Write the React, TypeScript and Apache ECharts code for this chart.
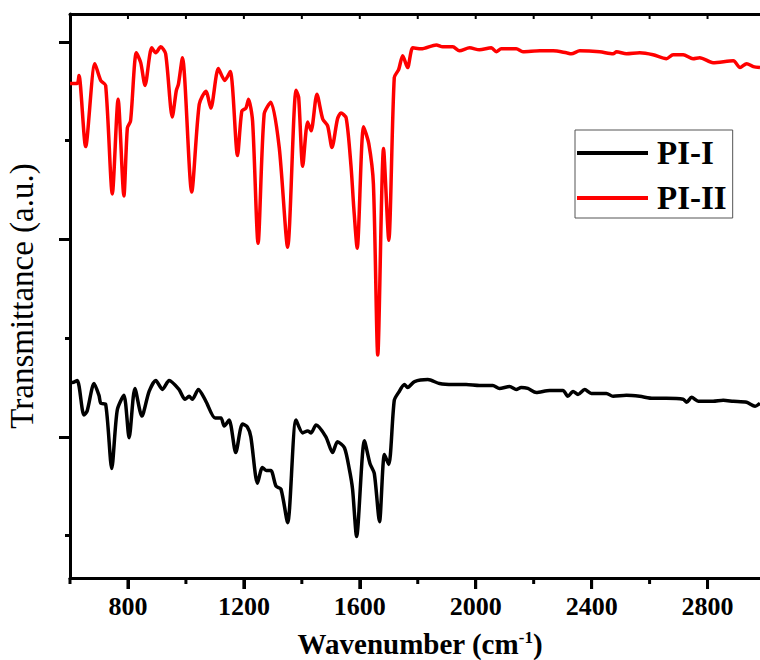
import React, { useEffect, useRef } from "react";
import * as echarts from "echarts";

// PI-I (black) spectrum
const wavenumberPI1 = [600, 608, 625, 648, 659, 683, 700, 706, 723, 744, 763, 786, 804, 824, 848, 873, 896, 919, 942, 976, 997, 1011, 1022, 1043, 1069, 1101, 1121, 1132, 1149, 1172, 1195, 1212, 1224, 1247, 1264, 1277, 1293, 1311, 1328, 1351, 1380, 1403, 1420, 1432, 1449, 1483, 1506, 1523, 1547, 1564, 1575, 1589, 1616, 1635, 1650, 1668, 1685, 1700, 1719, 1734, 1754, 1765, 1789, 1835, 1875, 1921, 1967, 2013, 2059, 2082, 2117, 2140, 2157, 2180, 2209, 2255, 2301, 2318, 2336, 2353, 2376, 2399, 2451, 2474, 2520, 2566, 2612, 2658, 2716, 2728, 2745, 2768, 2819, 2854, 2889, 2935, 2964, 2981];
const transPI1 = [1.55, 1.55, 1.57, 1.22, 1.26, 1.54, 1.42, 1.34, 1.33, 0.68, 1.27, 1.42, 0.99, 1.49, 1.21, 1.46, 1.57, 1.48, 1.57, 1.48, 1.38, 1.41, 1.38, 1.48, 1.36, 1.19, 1.19, 1.11, 1.17, 0.84, 1.13, 1.1, 1.0, 0.53, 0.69, 0.66, 0.66, 0.5, 0.47, 0.13, 1.17, 1.04, 1.06, 1.04, 1.12, 1.0, 0.84, 0.95, 0.89, 0.67, 0.47, -0.01, 0.96, 0.73, 0.63, 0.14, 0.82, 0.72, 1.37, 1.45, 1.53, 1.5, 1.56, 1.58, 1.54, 1.53, 1.53, 1.52, 1.52, 1.49, 1.51, 1.48, 1.5, 1.49, 1.45, 1.47, 1.47, 1.41, 1.46, 1.43, 1.48, 1.44, 1.44, 1.41, 1.42, 1.41, 1.39, 1.39, 1.38, 1.35, 1.4, 1.36, 1.36, 1.37, 1.36, 1.35, 1.31, 1.34];

// PI-II (red) spectrum
const wavenumberPI2 = [600, 625, 631, 654, 686, 706, 723, 746, 766, 786, 798, 809, 829, 844, 859, 882, 896, 913, 930, 953, 967, 974, 988, 1020, 1046, 1069, 1086, 1112, 1134, 1153, 1178, 1193, 1207, 1216, 1230, 1249, 1270, 1293, 1322, 1351, 1380, 1389, 1403, 1420, 1432, 1452, 1472, 1489, 1504, 1523, 1535, 1553, 1570, 1579, 1591, 1613, 1631, 1647, 1662, 1682, 1700, 1719, 1734, 1748, 1765, 1783, 1812, 1864, 1886, 1921, 1944, 1979, 2013, 2054, 2071, 2088, 2140, 2163, 2221, 2267, 2313, 2330, 2359, 2428, 2474, 2486, 2520, 2566, 2612, 2658, 2681, 2716, 2750, 2773, 2819, 2889, 2912, 2935, 2958, 2981];
const transPI2 = [4.58, 4.58, 4.66, 3.94, 4.78, 4.61, 4.56, 3.46, 4.42, 3.44, 4.13, 4.2, 4.89, 4.79, 4.56, 4.94, 4.89, 4.95, 4.88, 4.24, 4.51, 4.57, 4.84, 3.48, 4.37, 4.5, 4.33, 4.73, 4.61, 4.7, 3.85, 4.3, 4.33, 4.42, 4.2, 2.96, 4.27, 4.39, 3.93, 2.92, 4.51, 4.44, 3.74, 4.19, 4.1, 4.47, 4.22, 4.15, 3.93, 4.22, 4.28, 4.23, 3.73, 3.33, 2.91, 4.14, 3.97, 3.56, 1.83, 3.92, 2.99, 4.64, 4.72, 4.86, 4.74, 4.94, 4.93, 4.97, 4.95, 4.95, 4.91, 4.94, 4.92, 4.94, 4.9, 4.93, 4.93, 4.9, 4.91, 4.91, 4.89, 4.88, 4.91, 4.9, 4.88, 4.9, 4.88, 4.89, 4.87, 4.83, 4.87, 4.87, 4.83, 4.84, 4.79, 4.81, 4.74, 4.78, 4.75, 4.74];

const seriesNames = ["PI-I", "PI-II"];
const seriesColors = ["#000000", "#ff0000"];

// tick positions
const xMajorTicks = [800, 1200, 1600, 2000, 2400, 2800];
const xMinorTicks = [600, 1000, 1400, 1800, 2200, 2600];
const xTopTicks = [800, 1000, 1200, 1400, 1600, 1800, 2000, 2200, 2400, 2600, 2800];
const yMajorTicks = [1, 3, 5];
const yMinorTicks = [0, 2, 4];

const FONT = "'Liberation Serif', 'Times New Roman', serif";

function pairs(xs: number[], ys: number[]) {
  return xs.map((x, i) => [x, ys[i]]);
}

export default function App() {
  const ref = useRef<HTMLDivElement>(null);
  useEffect(() => {
    document.body.style.margin = "0";
    if (!ref.current) return;
    const chart = echarts.init(ref.current, null, { renderer: "svg" });
    const X_MIN = 600, X_MAX = 2981, Y_MIN = -0.43, Y_MAX = 5.283;
    const baseX = { type: "value" as const, min: X_MIN, max: X_MAX, splitLine: { show: false } };
    const baseY = { type: "value" as const, min: Y_MIN, max: Y_MAX, splitLine: { show: false } };

    // x tick marks as small filled bars placed through the x scale
    const tickSeries = (values: number[], atY: number, len: number, width: number, down: boolean) => ({
      type: "scatter" as const,
      silent: true,
      clip: false,
      z: 20,
      symbol: "rect",
      symbolSize: [width, len],
      symbolOffset: [0, down ? len / 2 : len / 2],
      itemStyle: { color: "#000", opacity: 1 },
      data: values.map((v) => [v, atY]),
      tooltip: { show: false },
    });

    chart.setOption({
      animation: false,
      backgroundColor: "#ffffff",
      grid: { left: 70, top: 14, width: 690, height: 564, containLabel: false, outerBoundsMode: "none" },
      legend: {
        orient: "vertical", left: 575, top: 130, data: seriesNames, icon: "rect",
        itemWidth: 71, itemHeight: 4, itemGap: 11, borderColor: "#555", borderWidth: 1, padding: [6, 6, 3, 2],
        textStyle: { fontFamily: FONT, fontWeight: "bold", fontSize: 33, lineHeight: 34, color: "#000", padding: [0, 0, 0, 4] },
      },
      xAxis: [
        {
          ...baseX, position: "bottom",
          axisLine: { show: true, onZero: false, lineStyle: { color: "#000", width: 3 } },
          axisTick: { show: true, customValues: xMajorTicks, length: 11, lineStyle: { color: "#000", width: 3 } },
          axisLabel: { show: true, customValues: xMajorTicks, formatter: (v: number) => String(v), margin: 15, fontFamily: FONT, fontWeight: "bold", fontSize: 26, color: "#000" },
          name: "Wavenumber (cm{sup|-1})", nameLocation: "middle", nameGap: 51,
          nameTextStyle: {
            fontFamily: FONT, fontWeight: "bold", fontSize: 29, color: "#000", lineHeight: 30, padding: [0, 0, 0, 10],
            rich: { sup: { fontFamily: FONT, fontWeight: "bold", fontSize: 17, color: "#000", verticalAlign: "top", lineHeight: 17 } },
          },
        },
        {
          ...baseX, position: "top",
          axisLine: { show: true, onZero: false, lineStyle: { color: "#000", width: 3 } },
          axisTick: { show: false },
          axisLabel: { show: false },
        },
      ],
      yAxis: [
        {
          ...baseY, position: "left",
          axisLine: { show: true, onZero: false, lineStyle: { color: "#000", width: 3 } },
          axisTick: { show: true, customValues: yMajorTicks, length: 11, lineStyle: { color: "#000", width: 3 } },
          axisLabel: { show: false },
          name: "Transmittance (a.u.)", nameLocation: "middle", nameGap: 32,
          nameTextStyle: { fontFamily: FONT, fontSize: 33, color: "#000000" },
        },
        {
          ...baseY, position: "left",
          axisLine: { show: false, onZero: false },
          axisTick: { show: true, customValues: yMinorTicks, length: 5, lineStyle: { color: "#000", width: 3 } },
          axisLabel: { show: false },
        },
      ],
      series: [
        { name: seriesNames[0], type: "line", data: pairs(wavenumberPI1, transPI1), showSymbol: false, smooth: 0.25, color: seriesColors[0], lineStyle: { color: seriesColors[0], width: 3.5 } },
        { name: seriesNames[1], type: "line", data: pairs(wavenumberPI2, transPI2), showSymbol: false, smooth: 0.25, color: seriesColors[1], lineStyle: { color: seriesColors[1], width: 3.5 } },
        tickSeries(xMajorTicks, Y_MIN, 11, 3, true),
        tickSeries(xMinorTicks, Y_MIN, 6, 3, true),
        tickSeries(xTopTicks, Y_MAX, 5, 2, true),
      ],
    });
    return () => chart.dispose();
  }, []);
  return <div ref={ref} style={{ width: 760, height: 660 }} />;
}
